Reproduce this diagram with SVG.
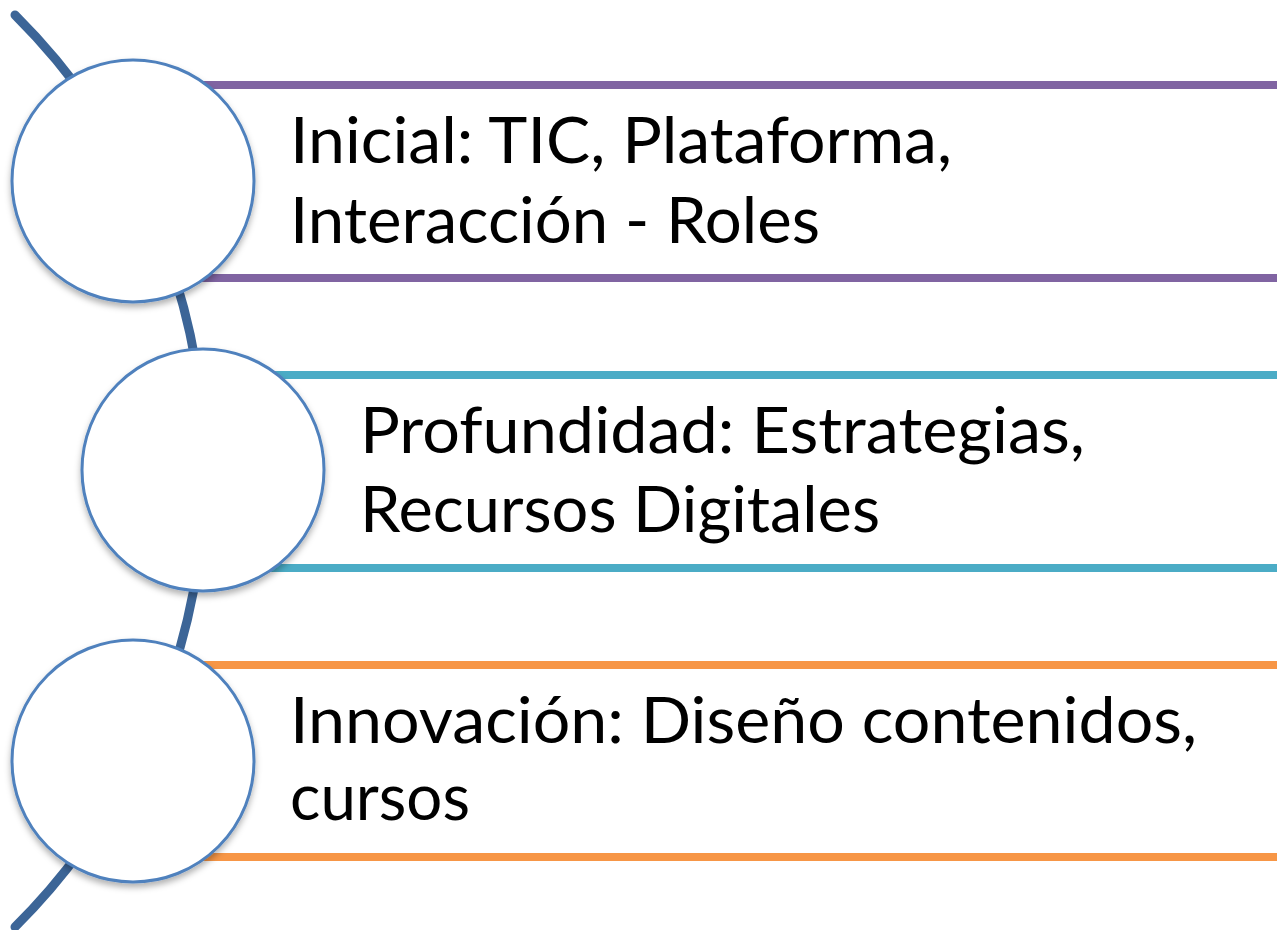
<svg xmlns="http://www.w3.org/2000/svg" width="1277" height="930" viewBox="0 0 1277 930">
<style>
.bar{stroke-width:8;fill:none}
.purple{stroke:#8064A2}
.teal{stroke:#4BACC6}
.orange{stroke:#F79646}
.node{fill:#FFFFFF;stroke:#4F81BD;stroke-width:3;filter:url(#sh)}
.lbl{font-family:Lato,"Open Sans","Liberation Sans",sans-serif;font-size:64px;fill:#000000}
</style>
<defs>
<filter id="sh" x="-20%" y="-20%" width="140%" height="140%">
<feDropShadow dx="0" dy="4" stdDeviation="3" flood-color="#000000" flood-opacity="0.3"/>
</filter>
</defs>
<g id="connectors">
<path d="M15,15 A643,643 0 0 1 15,927" fill="none" stroke="#3C6597" stroke-width="9" stroke-linecap="round"/>
<line class="bar purple" x1="133" y1="85" x2="1277" y2="85"/>
<line class="bar purple" x1="133" y1="278" x2="1277" y2="278"/>
<line class="bar teal" x1="203" y1="375" x2="1277" y2="375"/>
<line class="bar teal" x1="203" y1="568" x2="1277" y2="568"/>
<line class="bar orange" x1="133" y1="665" x2="1277" y2="665"/>
<line class="bar orange" x1="133" y1="857" x2="1277" y2="857"/>
</g>
<g id="node1">
<circle class="node" cx="133" cy="181" r="121"/>
<text class="lbl" x="290" y="163" textLength="662" lengthAdjust="spacingAndGlyphs">Inicial: TIC, Plataforma,</text>
<text class="lbl" x="290" y="243" textLength="530" lengthAdjust="spacingAndGlyphs">Interacción - Roles</text>
</g>
<g id="node2">
<circle class="node" cx="203" cy="470" r="121"/>
<text class="lbl" x="360" y="453" textLength="725" lengthAdjust="spacingAndGlyphs">Profundidad: Estrategias,</text>
<text class="lbl" x="360" y="532" textLength="520" lengthAdjust="spacingAndGlyphs">Recursos Digitales</text>
</g>
<g id="node3">
<circle class="node" cx="133" cy="761" r="121"/>
<text class="lbl" x="290" y="743" textLength="907" lengthAdjust="spacingAndGlyphs">Innovación: Diseño contenidos,</text>
<text class="lbl" x="290" y="820" textLength="180" lengthAdjust="spacingAndGlyphs">cursos</text>
</g>
</svg>
